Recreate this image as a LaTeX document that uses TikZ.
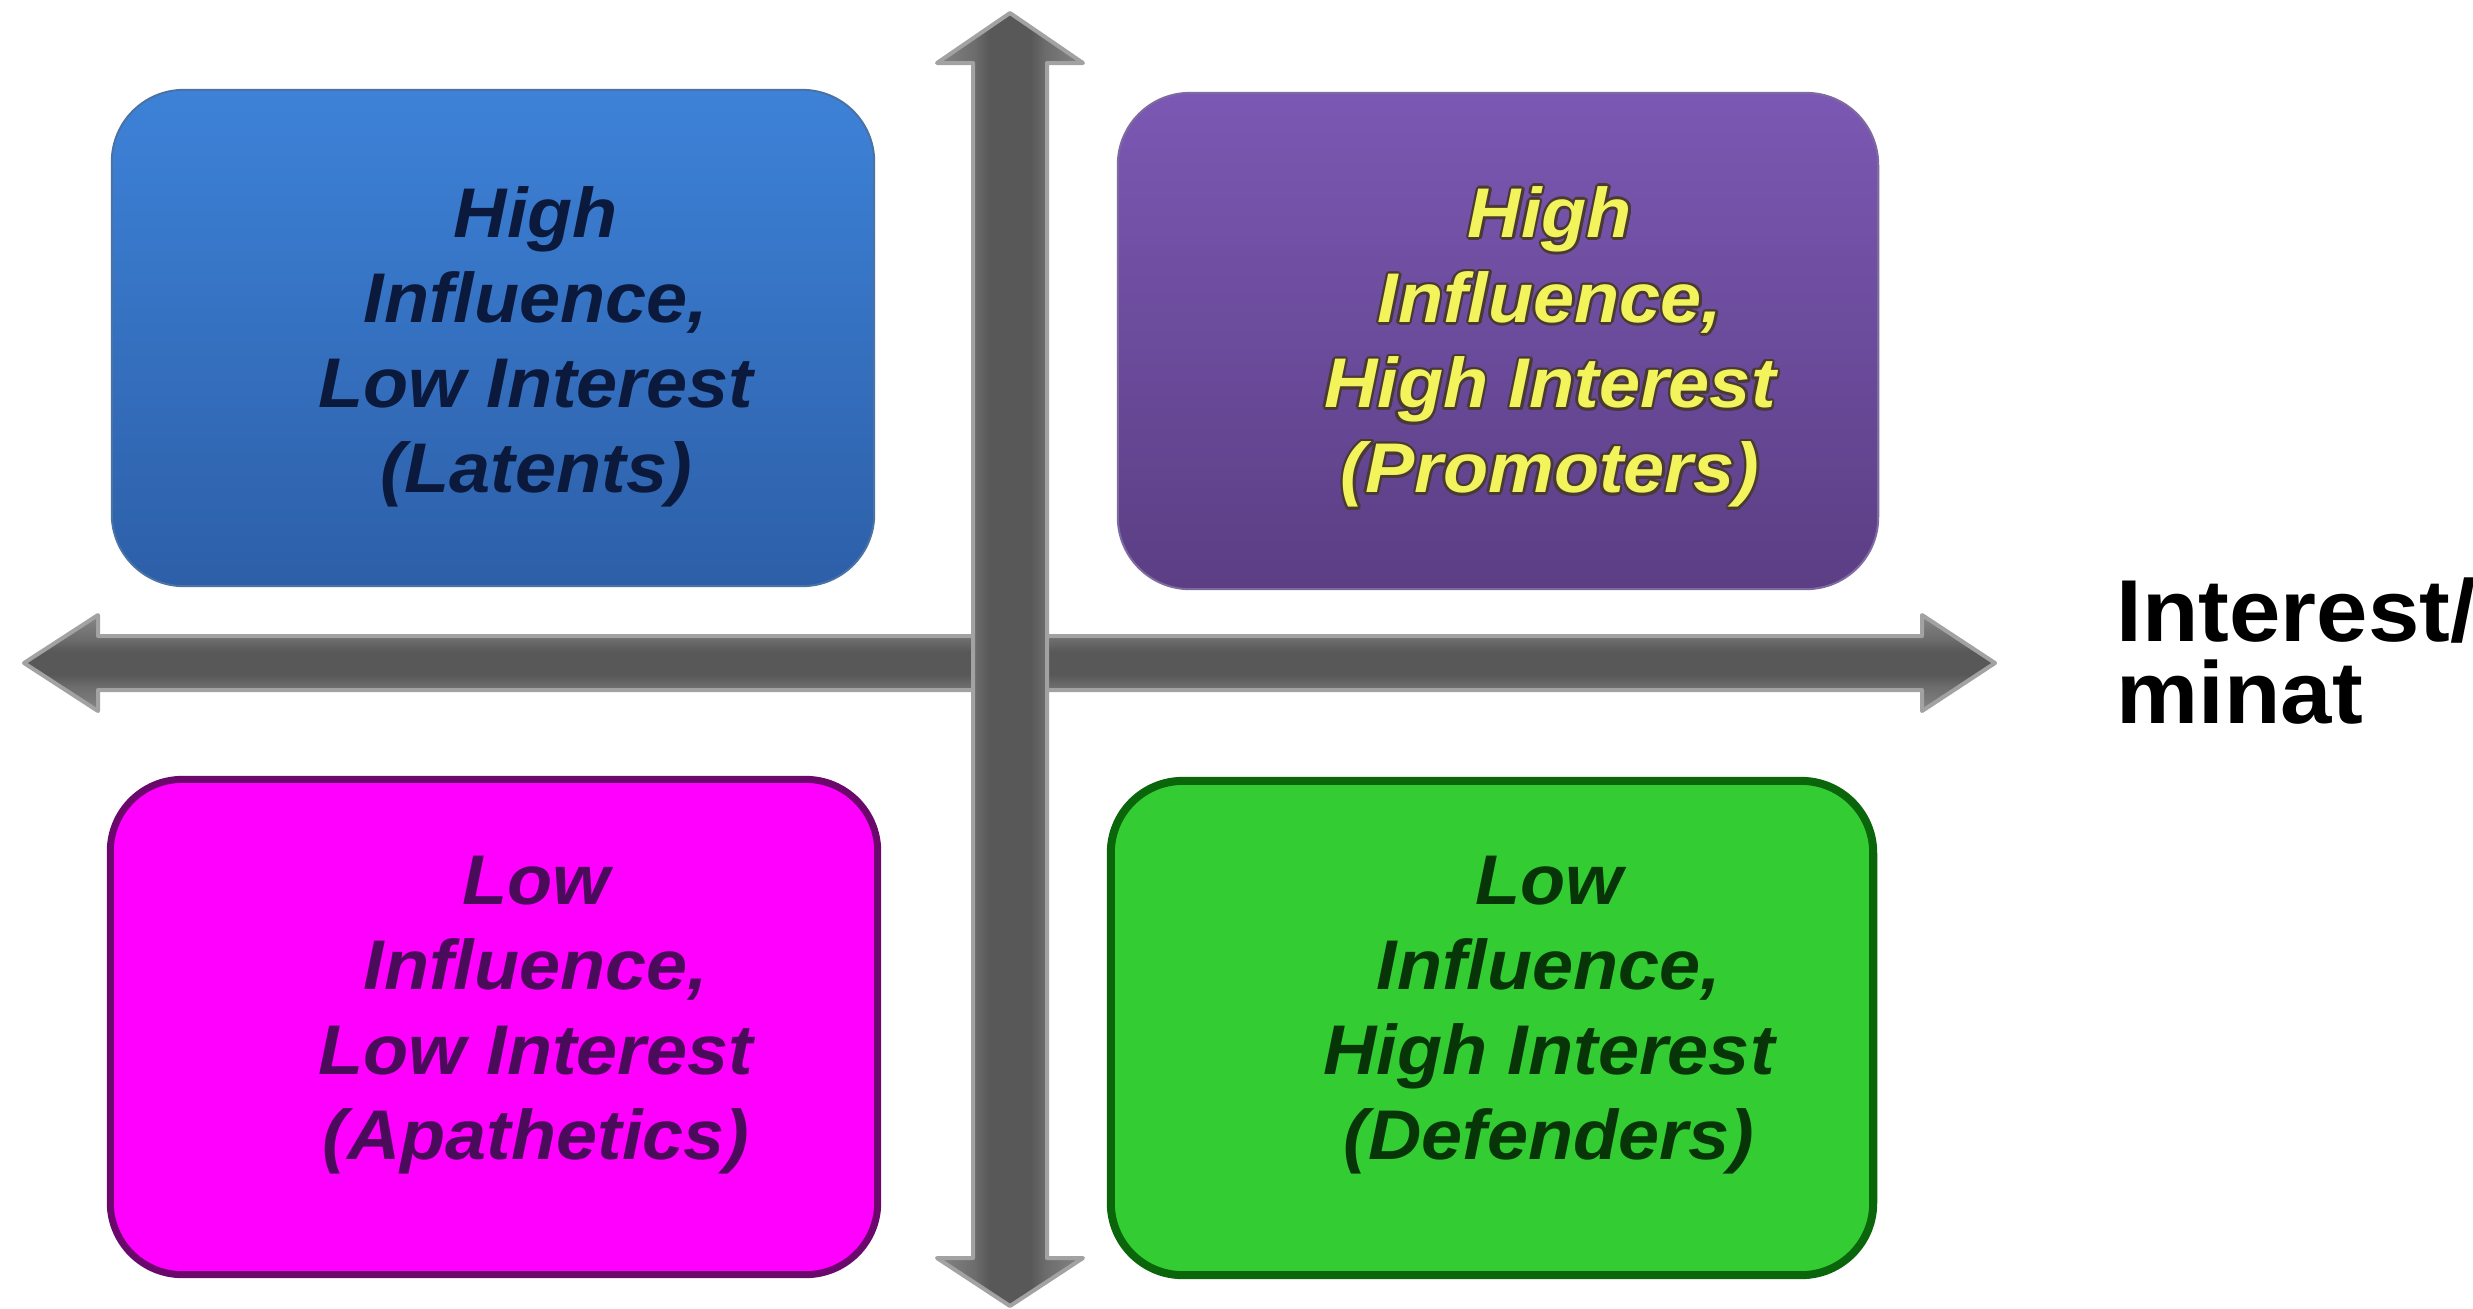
\documentclass[tikz,border=0pt]{standalone}
\usepackage{fontspec}
\setmainfont{Liberation Sans}
\newfontfamily\quadfont[FakeStretch=1.05]{Liberation Sans}
\usetikzlibrary{calc}

% axis greys
\definecolor{axLight}{HTML}{868686}
\definecolor{axMid}{HTML}{6C6C6C}
\definecolor{axDark}{HTML}{585858}
\definecolor{axEdge}{HTML}{A2A2A2}
% quadrant colours
\definecolor{blueTop}{HTML}{3D82D8}
\definecolor{blueBot}{HTML}{2D5FA8}
\definecolor{blueEdge}{HTML}{4A72A4}
\definecolor{blueInk}{HTML}{0B1A3C}
\definecolor{purpTop}{HTML}{7B58B3}
\definecolor{purpBot}{HTML}{5B3E84}
\definecolor{purpEdge}{HTML}{7E6AA0}
\definecolor{promoInk}{HTML}{F3F35C}
\definecolor{promoHalo}{HTML}{4A3A34}
\definecolor{magFill}{HTML}{FF00FF}
\definecolor{magEdge}{HTML}{6A086C}
\definecolor{magInk}{HTML}{4B0B5B}
\definecolor{magGlow}{HTML}{D070D0}
\definecolor{grnFill}{HTML}{33CC33}
\definecolor{grnEdge}{HTML}{0B660B}
\definecolor{grnInk}{HTML}{073507}
\definecolor{grnGlow}{HTML}{80D080}

% bevelled look across the axis bars
\pgfdeclarehorizontalshading{vaxis}{100bp}{color(0bp)=(axLight); color(25bp)=(axLight); color(38bp)=(axMid); color(43bp)=(axDark); color(57bp)=(axDark); color(62bp)=(axMid); color(75bp)=(axLight); color(100bp)=(axLight)}
\pgfdeclareverticalshading{haxis}{100bp}{color(0bp)=(axLight); color(25bp)=(axLight); color(38bp)=(axMid); color(44bp)=(axDark); color(56bp)=(axDark); color(62bp)=(axMid); color(75bp)=(axLight); color(100bp)=(axLight)}

\pgfdeclarelayer{shadowlayer}
\pgfsetlayers{shadowlayer,main}

\begin{document}
\begin{tikzpicture}[x=0.01cm, y=-0.01cm,
  quad/.style={rectangle, rounded corners=0.72cm, inner sep=0pt},
  quadtext/.style={font=\quadfont\bfseries\itshape\fontsize{20}{24.2}\selectfont,
                   align=center, inner sep=0pt},
  axisbar/.style={shade, draw=axEdge, line width=0.04cm, line join=round}]

  \fill[white] (0,0) rectangle (2473,1308);
  \useasboundingbox (0,0) rectangle (2473,1308);

  % horizontal axis (interest)
  \path[axisbar, shading=haxis]
    (24,663) -- (98,615) -- (98,636) -- (1922,636) -- (1922,615) -- (1995,663)
    -- (1922,711) -- (1922,690) -- (98,690) -- (98,711) -- cycle;
  % vertical axis (influence)
  \path[axisbar, shading=vaxis]
    (1010,13) -- (1083,63) -- (1047,63) -- (1047,1258) -- (1083,1258) -- (1010,1306)
    -- (937,1258) -- (973,1258) -- (973,63) -- (937,63) -- cycle;

  % quadrants
  \node[quad, top color=blueTop, bottom color=blueBot, draw=blueEdge, line width=0.02cm,
        minimum width=7.62cm, minimum height=4.96cm] (latents) at (493,338) {};
  \node[quad, top color=purpTop, bottom color=purpBot, draw=purpEdge, line width=0.02cm,
        minimum width=7.60cm, minimum height=4.96cm] (promoters) at (1498,341) {};
  \node[quad, fill=magFill, draw=magEdge, line width=0.07cm,
        minimum width=7.67cm, minimum height=4.95cm] (apathetics) at (494,1027) {};
  \node[quad, fill=grnFill, draw=grnEdge, line width=0.08cm,
        minimum width=7.62cm, minimum height=4.94cm] (defenders) at (1492,1028) {};

  % soft shadows and glows behind the quadrants
  \begin{pgfonlayer}{shadowlayer}
    \foreach \qbox in {latents, promoters}{
      \foreach \d/\op in {4/0.12, 8/0.09, 12/0.06}{
        \fill[black, opacity=\op, rounded corners=0.72cm]
          ($(\qbox.south west)+(2,\d)$) rectangle ($(\qbox.north east)+(-2,\d)$);
      }
    }
    \foreach \g/\op in {4/0.35, 8/0.2}{
      \fill[magGlow, opacity=\op, rounded corners=0.76cm]
        ($(apathetics.south west)+(-\g,\g)$) rectangle ($(apathetics.north east)+(\g,-\g)$);
      \fill[grnGlow, opacity=\op, rounded corners=0.76cm]
        ($(defenders.south west)+(-\g,\g)$) rectangle ($(defenders.north east)+(\g,-\g)$);
    }
  \end{pgfonlayer}

  % quadrant labels
  \node[quadtext, text=blueInk] (latents-text) at (536,347)
    {High\\Influence,\\Low Interest\\(Latents)};
  \foreach \a in {0,30,...,330}{
    \node[quadtext, text=promoHalo] (promoters-halo-\a) at ($(1550,347)+(\a:2.6)$)
      {High\\Influence,\\High Interest\\(Promoters)};
  }
  \node[quadtext, text=promoInk] (promoters-text) at (1550,347)
    {High\\Influence,\\High Interest\\(Promoters)};
  \node[quadtext, text=magInk] (apathetics-text) at (536,1015)
    {Low\\Influence,\\Low Interest\\(Apathetics)};
  \node[quadtext, text=grnInk] (defenders-text) at (1549,1015)
    {Low\\Influence,\\High Interest\\(Defenders)};

  % axis caption
  \node[font=\quadfont\bfseries\fontsize{25}{23.3}\selectfont, align=left, anchor=north west,
        inner sep=0pt] (interest-caption) at (2116,577) {Interest/\\minat};
\end{tikzpicture}
\end{document}
